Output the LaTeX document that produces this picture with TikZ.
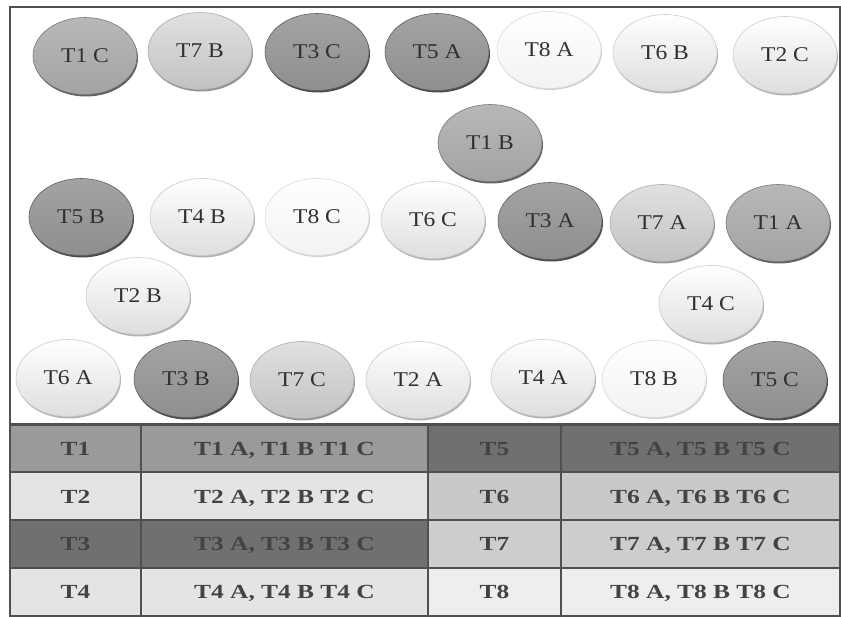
\documentclass[tikz,border=0pt]{standalone}
\usepackage{fontspec}
\usepackage{graphicx}
\setmainfont{Liberation Serif}
\usetikzlibrary{shapes.geometric,shadows}
\newcommand\elt[1]{\scalebox{1.12}[1]{#1}}
\newcommand\tbt[1]{\scalebox{1.27}[1]{#1}}
\definecolor{linec}{HTML}{505050}
\definecolor{txtc}{HTML}{303030}
\definecolor{tabtxt}{HTML}{434343}
\definecolor{cA}{HTML}{9A9A9A}
\definecolor{cB}{HTML}{E4E4E4}
\definecolor{cC}{HTML}{707070}
\definecolor{cD}{HTML}{C9C9C9}
\definecolor{cE}{HTML}{CDCDCD}
\definecolor{cF}{HTML}{EEEEEE}
\tikzset{
  x=1pt,y=-1pt,
  pill/.style={ellipse, minimum width=104pt, minimum height=77pt, inner sep=0pt,
    font=\fontsize{21}{24}\selectfont, text=txtc, text height=14pt, text depth=0pt},
  gone/.style={pill, top color=black!28, middle color=black!42, bottom color=black!36,
    draw=black!52, line width=0.6pt,
    general shadow={shadow xshift=1pt, shadow yshift=-2pt, fill=black!62}},
  gdark/.style={pill, top color=black!36, middle color=black!54, bottom color=black!44,
    draw=black!62, line width=0.6pt,
    general shadow={shadow xshift=1pt, shadow yshift=-2pt, fill=black!70}},
  gseven/.style={pill, top color=black!12, middle color=black!19, bottom color=black!24,
    draw=black!32, line width=0.6pt,
    general shadow={shadow xshift=1pt, shadow yshift=-2pt, fill=black!42}},
  glight/.style={pill, top color=white, middle color=black!4, bottom color=black!13,
    draw=black!20, line width=0.6pt,
    general shadow={shadow xshift=1pt, shadow yshift=-2pt, fill=black!30}},
  gwhite/.style={pill, top color=white, middle color=white, bottom color=black!5,
    draw=black!14, line width=0.6pt,
    general shadow={shadow xshift=1pt, shadow yshift=-1.5pt, fill=black!18}},
  cell/.style={rectangle, draw=linec, line width=2pt, inner sep=0pt,
    minimum height=48pt, text=tabtxt, font=\bfseries\fontsize{20}{23}\selectfont,
    text height=13.5pt, text depth=0pt},
  ca/.style={cell, minimum width=131pt},
  cb/.style={cell, minimum width=287pt},
  cc/.style={cell, minimum width=133pt},
  cd/.style={cell, minimum width=279pt}
}
\begin{document}
\begin{tikzpicture}
\useasboundingbox (0,0) rectangle (841,617);
\fill[white] (0,0) rectangle (841,617);
\draw[linec, line width=2pt] (10,7) rectangle (840,424);
% row 1
\node[gone]   (t1c) at (85,56)  {\elt{T1 C}};
\node[gseven] (t7b) at (200,51) {\elt{T7 B}};
\node[gdark]  (t3c) at (317,52) {\elt{T3 C}};
\node[gdark]  (t5a) at (437,52) {\elt{T5 A}};
\node[gwhite] (t8a) at (549,50) {\elt{T8 A}};
\node[glight] (t6b) at (665,53) {\elt{T6 B}};
\node[glight] (t2c) at (785,55) {\elt{T2 C}};
% T1 B
\node[gone]   (t1b) at (490,143) {\elt{T1 B}};
% row 3
\node[gdark]  (t5b) at (81,217)  {\elt{T5 B}};
\node[glight] (t4b) at (202,217) {\elt{T4 B}};
\node[gwhite] (t8c) at (317,217) {\elt{T8 C}};
\node[glight] (t6c) at (433,220) {\elt{T6 C}};
\node[gdark]  (t3a) at (550,221) {\elt{T3 A}};
\node[gseven] (t7a) at (662,223) {\elt{T7 A}};
\node[gone]   (t1a) at (778,223) {\elt{T1 A}};
% row 4
\node[glight] (t2b) at (138,296) {\elt{T2 B}};
\node[glight] (t4c) at (711,304) {\elt{T4 C}};
% row 5
\node[glight] (t6a) at (68,378)  {\elt{T6 A}};
\node[gdark]  (t3b) at (186,379) {\elt{T3 B}};
\node[gseven] (t7c) at (302,380) {\elt{T7 C}};
\node[glight] (t2a) at (418,380) {\elt{T2 A}};
\node[glight] (t4a) at (543,378) {\elt{T4 A}};
\node[gwhite] (t8b) at (654,379) {\elt{T8 B}};
\node[gdark]  (t5c) at (775,380) {\elt{T5 C}};
% table
\node[ca, fill=cA] (k1) at (75.5,449) {\tbt{T1}};
\node[cb, fill=cA] (v1) at (284.5,449) {\tbt{T1 A, T1 B T1 C}};
\node[cc, fill=cC] (k5) at (494.5,449) {\tbt{T5}};
\node[cd, fill=cC] (v5) at (700.5,449) {\tbt{T5 A, T5 B T5 C}};
\node[ca, fill=cB] (k2) at (75.5,496.5) {\tbt{T2}};
\node[cb, fill=cB] (v2) at (284.5,496.5) {\tbt{T2 A, T2 B T2 C}};
\node[cc, fill=cD] (k6) at (494.5,496.5) {\tbt{T6}};
\node[cd, fill=cD] (v6) at (700.5,496.5) {\tbt{T6 A, T6 B T6 C}};
\node[ca, fill=cC] (k3) at (75.5,544) {\tbt{T3}};
\node[cb, fill=cC] (v3) at (284.5,544) {\tbt{T3 A, T3 B T3 C}};
\node[cc, fill=cE] (k7) at (494.5,544) {\tbt{T7}};
\node[cd, fill=cE] (v7) at (700.5,544) {\tbt{T7 A, T7 B T7 C}};
\node[ca, fill=cB] (k4) at (75.5,592) {\tbt{T4}};
\node[cb, fill=cB] (v4) at (284.5,592) {\tbt{T4 A, T4 B T4 C}};
\node[cc, fill=cF] (k8) at (494.5,592) {\tbt{T8}};
\node[cd, fill=cF] (v8) at (700.5,592) {\tbt{T8 A, T8 B T8 C}};
\end{tikzpicture}
\end{document}
